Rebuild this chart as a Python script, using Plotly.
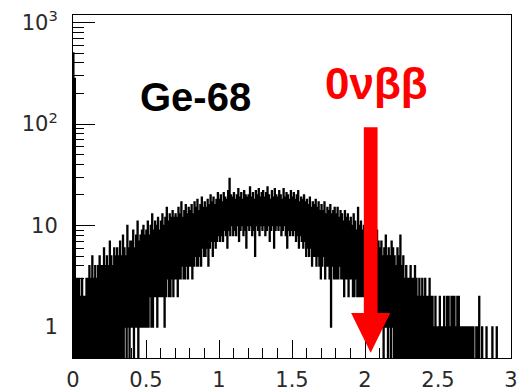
import plotly.graph_objects as go

# ---------------- data (counts per 10 keV bin: upper / lower envelope) ----------------
bin_width = 0.01  # MeV
hi_counts = [
    500, 280, 3, 3, 3, 2, 3, 2, 2, 3,
    3, 4, 3, 5, 3, 4, 3, 4, 5, 4,
    4, 6, 4, 5, 4, 7, 5, 4, 6, 5,
    6, 5, 7, 5, 8, 6, 5, 10, 6, 7,
    7, 9, 6, 8, 11, 7, 8, 9, 10, 8,
    9, 11, 8, 10, 13, 9, 11, 10, 12, 9,
    11, 13, 10, 12, 15, 11, 13, 12, 14, 12,
    13, 12, 15, 13, 17, 12, 14, 16, 13, 15,
    14, 16, 13, 17, 15, 18, 14, 16, 19, 15,
    17, 15, 18, 16, 20, 17, 19, 16, 18, 21,
    18, 20, 17, 21, 19, 18, 22, 29, 20, 19,
    21, 18, 20, 23, 19, 21, 18, 22, 20, 19,
    20, 24, 19, 21, 18, 22, 20, 23, 19, 21,
    22, 19, 21, 24, 20, 18, 22, 19, 23, 20,
    19, 22, 20, 18, 23, 19, 21, 20, 18, 22,
    19, 21, 18, 20, 22, 17, 19, 18, 20, 17,
    18, 16, 19, 15, 17, 16, 18, 15, 17, 14,
    16, 14, 17, 13, 15, 14, 16, 13, 14, 15,
    13, 15, 12, 14, 13, 11, 14, 12, 13, 11,
    12, 10, 13, 11, 9, 15, 10, 11, 9, 10,
    9, 8, 10, 8, 7, 9, 7, 8, 9, 7,
    6, 7, 5, 6, 8, 5, 6, 5, 7, 6,
    5, 4, 6, 5, 8, 4, 5, 3, 4, 3,
    3, 4, 3, 3, 4, 3, 2, 3, 2, 3,
    2, 3, 2, 2, 3, 2, 2, 1, 2, 1,
    1, 2, 1, 1, 2, 1, 2, 2, 1, 2,
    2, 2, 1, 2, 2, 1, 1, 1, 1, 1,
    1, 1, 1, 1, 1, 0, 1, 1, 2, 0,
    1, 0, 0, 1, 0, 0, 0, 1, 0, 0,
    1, 0, 0, 0, 0, 0, 0, 0, 0, 0,
]
lo_counts = [
    0, 0, 0, 0, 0, 0, 0, 0, 0, 0,
    0, 0, 0, 0, 0, 0, 0, 0, 0, 0,
    0, 0, 0, 0, 0, 0, 0, 0, 0, 0,
    0, 0, 0, 0, 0, 1, 0, 1, 0, 1,
    1, 0, 1, 1, 0, 1, 1, 1, 1, 1,
    1, 1, 2, 1, 1, 2, 2, 1, 2, 2,
    2, 2, 1, 2, 3, 2, 2, 3, 2, 3,
    3, 2, 3, 3, 4, 3, 3, 4, 3, 4,
    4, 3, 4, 5, 4, 4, 5, 4, 6, 5,
    5, 6, 4, 6, 7, 5, 7, 6, 7, 8,
    7, 8, 7, 9, 8, 6, 9, 8, 10, 8,
    9, 8, 10, 7, 9, 10, 8, 9, 6, 10,
    9, 10, 8, 9, 5, 10, 9, 8, 10, 9,
    10, 8, 9, 10, 7, 9, 10, 6, 9, 10,
    9, 10, 8, 9, 10, 8, 6, 9, 8, 9,
    8, 9, 7, 8, 6, 8, 7, 6, 7, 5,
    6, 5, 6, 4, 5, 5, 4, 5, 4, 3,
    4, 5, 3, 4, 4, 3, 1, 4, 3, 3,
    3, 3, 4, 3, 3, 2, 3, 3, 2, 3,
    3, 2, 2, 3, 2, 2, 2, 2, 2, 2,
    2, 1, 2, 1, 1, 2, 1, 1, 1, 1,
    1, 1, 0, 1, 1, 0, 1, 0, 1, 0,
] + [0] * 80

x_tick_vals = [0, 0.5, 1, 1.5, 2, 2.5, 3]
x_tick_text = ["0", "0.5", "1", "1.5", "2", "2.5", "3"]
y_tick_vals = [1, 10, 100, 1000]
y_tick_text = ["1", "10", "10<sup>2</sup>", "10<sup>3</sup>"]

label_source = "Ge-68"
label_signal = "0νββ"
q_bb = 2.039  # MeV, position of the 0νββ arrow

# ---------------- build histogram outline ----------------
FLOOR = 0.1  # empty bins drop below the axis (as ROOT draws them)
xs, ys = [], []
for i, (h, l) in enumerate(zip(hi_counts, lo_counts)):
    e = i * bin_width
    xs += [e, e + bin_width / 2]
    ys += [h if h > 0 else FLOOR, l if l > 0 else FLOOR]
xs.append(len(hi_counts) * bin_width)
ys.append(ys[-1])

fig = go.Figure()
fig.add_trace(go.Scatter(
    x=xs, y=ys, mode="lines", line=dict(color="black", width=1.6, shape="hv"),
    hoverinfo="skip", showlegend=False,
))

# ---------------- arrow for 0νββ ----------------
shaft_half = 0.047
head_half = 0.134
shaft_top, head_top, tip = 0.673, 0.131, 0.015
fig.add_shape(type="rect", xref="x", yref="paper",
              x0=q_bb - shaft_half, x1=q_bb + shaft_half, y0=head_top - 0.005, y1=shaft_top,
              fillcolor="#ff0000", line=dict(width=0), layer="above")
fig.add_shape(type="path", xref="x", yref="paper",
              path=f"M {q_bb - head_half},{head_top} L {q_bb + head_half},{head_top} L {q_bb},{tip} Z",
              fillcolor="#ff0000", line=dict(width=0), layer="above")

fig.add_annotation(text=f"<b>{label_source}</b>", xref="paper", yref="paper",
                   x=0.279, y=0.76, xanchor="center", yanchor="middle", showarrow=False,
                   font=dict(family="Liberation Sans, Arial", size=40, color="black"))
fig.add_annotation(text=f"<b>{label_signal}</b>", xref="paper", yref="paper",
                   x=0.694, y=0.8, xanchor="center", yanchor="middle", showarrow=False,
                   font=dict(family="Liberation Sans, Arial", size=44, color="#ff0000"))

tick_font = dict(family="DejaVu Sans", size=21, color="#2a2a2a")
y_minor = [m * 10 ** k for k in range(3) for m in range(2, 10)]

fig.update_layout(
    width=521, height=392,
    margin=dict(l=73, r=10, t=15, b=34, autoexpand=False),
    paper_bgcolor="white", plot_bgcolor="white",
    xaxis=dict(
        range=[0, 3], tickmode="array", tickvals=x_tick_vals, ticktext=x_tick_text,
        ticks="inside", ticklen=18, tickwidth=1, tickcolor="black",
        minor=dict(tickmode="linear", tick0=0, dtick=0.1, ticks="inside", ticklen=10,
                   tickcolor="black", showgrid=False),
        showline=True, mirror=True, linecolor="black", linewidth=1,
        showgrid=False, zeroline=False, tickfont=tick_font, ticklabelstandoff=3,
        automargin=False,
    ),
    yaxis=dict(
        type="log", range=[-0.305, 3.074], tickmode="array", tickvals=y_tick_vals,
        ticktext=y_tick_text, ticks="inside", ticklen=22, tickwidth=1, tickcolor="black",
        minor=dict(tickmode="array", tickvals=y_minor, ticks="inside", ticklen=11,
                   tickcolor="black", showgrid=False),
        showline=True, mirror=True, linecolor="black", linewidth=1,
        showgrid=False, zeroline=False, tickfont=tick_font, ticklabelstandoff=10,
        automargin=False,
    ),
)

fig.write_html("out.html", config={"displayModeBar": False},
               post_script="document.body.style.margin='0';")
